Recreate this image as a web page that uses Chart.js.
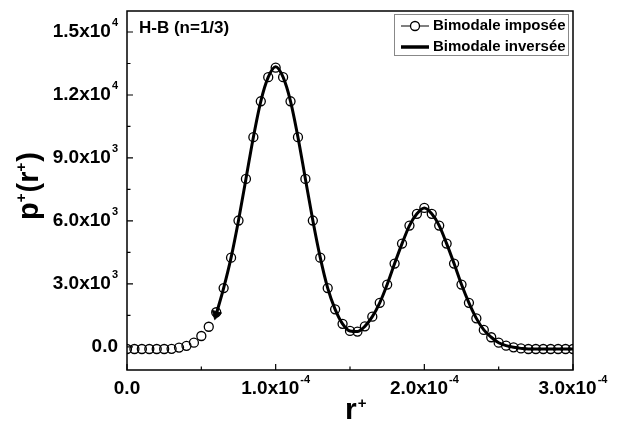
<!DOCTYPE html>
<html>
<head>
<meta charset="utf-8">
<script src="https://cdn.jsdelivr.net/npm/chart.js@4.4.1/dist/chart.umd.min.js"></script>
<style>
  html, body { margin: 0; padding: 0; background: #fff; }
  #wrap { width: 618px; height: 432px; }
</style>
</head>
<body>
<div id="wrap"><canvas id="chart" width="618" height="432"></canvas></div>
<script>
// r+ positions, in units of 1e-6
const rImposee = [0, 5, 10, 15, 20, 25, 30, 35, 40, 45, 50, 55, 60, 65, 70, 75, 80, 85, 90, 95,
  100, 105, 110, 115, 120, 125, 130, 135, 140, 145, 150, 155, 160, 165, 170, 175, 180, 185, 190, 195,
  200, 205, 210, 215, 220, 225, 230, 235, 240, 245, 250, 255, 260, 265, 270, 275, 280, 285, 290, 295, 300];
const pImposee = [-100, -100, -100, -100, -100, -100, -90, -30, 50, 200, 520, 960, 1650, 2800, 4250, 6020,
  8000, 9990, 11700, 12850, 13300, 12850, 11700, 9990, 8000, 6020, 4250, 2800, 1790, 1100, 760, 730,
  980, 1440, 2100, 2970, 3970, 4920, 5780, 6340, 6620, 6340, 5780, 4920, 3970, 2970, 2100, 1360,
  810, 460, 200, 60, -20, -70, -100, -100, -100, -100, -100, -100, -100];

const rInversee = [60, 65, 70, 75, 80, 85, 90, 95, 100, 105, 110, 115, 120, 125, 130, 135, 140, 145,
  150, 155, 160, 165, 170, 175, 180, 185, 190, 195, 200, 205, 210, 215, 220, 225, 230, 235, 240, 245,
  250, 255, 260, 265, 270, 275, 280, 285, 290, 295, 300];
const pInversee = [1550, 2800, 4250, 6020, 8000, 9990, 11700, 12850, 13350, 12850, 11700, 9990, 8000,
  6020, 4250, 2800, 1790, 1100, 760, 730, 980, 1440, 2100, 2970, 3970, 4920, 5780, 6340, 6620, 6340,
  5780, 4920, 3970, 2970, 2100, 1360, 810, 460, 200, 60, -20, -70, -100, -100, -100, -100, -100, -100, -100];

// tick labels
const yTickValues = [0, 3000, 6000, 9000, 12000, 15000];
const yTickBase = ['0.0', '3.0x10', '6.0x10', '9.0x10', '1.2x10', '1.5x10'];
const yTickExp = ['', '3', '3', '3', '4', '4'];
const yMinorValues = [1500, 4500, 7500, 10500, 13500];
const xTickValues = [0, 1e-4, 2e-4, 3e-4];
const xTickBase = ['0.0', '1.0x10', '2.0x10', '3.0x10'];
const xTickExp = ['', '-4', '-4', '-4'];
const xMinorValues = [0.5e-4, 1.5e-4, 2.5e-4];

const legendLabels = ['Bimodale imposée', 'Bimodale inversée'];
const annotation = 'H-B (n=1/3)';

const FONT = '"Liberation Sans", Arial, sans-serif';

// draw "1.5x10" with a raised exponent
function drawSci(ctx, base, exp, x, y, align) {
  ctx.font = 'bold 19px ' + FONT;
  const wb = ctx.measureText(base).width;
  ctx.font = 'bold 11px ' + FONT;
  const we = exp ? ctx.measureText(exp).width + 1 : 0;
  const total = wb + we;
  let start = x;
  if (align === 'center') start = x - total / 2;
  if (align === 'right') start = x - total;
  ctx.textAlign = 'left';
  ctx.textBaseline = 'middle';
  ctx.font = 'bold 19px ' + FONT;
  ctx.fillText(base, start, y);
  if (exp) {
    ctx.font = 'bold 11px ' + FONT;
    ctx.fillText(exp, start + wb + 1, y - 9);
  }
}

const decoPlugin = {
  id: 'deco',
  afterDraw(chart) {
    const ctx = chart.ctx;
    const area = chart.chartArea;
    const xs = chart.scales.x;
    const ys = chart.scales.y;
    ctx.save();
    ctx.fillStyle = '#000';
    ctx.strokeStyle = '#000';

    // frame
    ctx.lineWidth = 1.5;
    ctx.strokeRect(area.left, area.top, area.right - area.left, area.bottom - area.top);

    // inward ticks
    ctx.lineWidth = 1.2;
    ctx.beginPath();
    xTickValues.forEach(v => {
      const px = xs.getPixelForValue(v);
      ctx.moveTo(px, area.bottom); ctx.lineTo(px, area.bottom - 6);
    });
    xMinorValues.forEach(v => {
      const px = xs.getPixelForValue(v);
      ctx.moveTo(px, area.bottom); ctx.lineTo(px, area.bottom - 3.5);
    });
    yTickValues.forEach(v => {
      const py = ys.getPixelForValue(v);
      ctx.moveTo(area.left, py); ctx.lineTo(area.left + 6, py);
    });
    yMinorValues.forEach(v => {
      const py = ys.getPixelForValue(v);
      ctx.moveTo(area.left, py); ctx.lineTo(area.left + 3.5, py);
    });
    ctx.stroke();

    // tick labels
    yTickValues.forEach((v, i) => {
      drawSci(ctx, yTickBase[i], yTickExp[i], area.left - 9, ys.getPixelForValue(v), 'right');
    });
    xTickValues.forEach((v, i) => {
      drawSci(ctx, xTickBase[i], xTickExp[i], xs.getPixelForValue(v), area.bottom + 19, 'center');
    });

    // axis titles
    ctx.textBaseline = 'alphabetic';
    ctx.textAlign = 'left';
    ctx.font = 'bold 30px ' + FONT;
    const wr = ctx.measureText('r').width;
    ctx.fillText('r', 345, 419);
    ctx.font = 'bold 15px ' + FONT;
    ctx.fillText('+', 345 + wr + 1, 408);

    ctx.save();
    ctx.translate(38, 186);
    ctx.rotate(-Math.PI / 2);
    const parts = [['p', false], ['+', true], ['(', false], ['r', false], ['+', true], [')', false]];
    let total = 0;
    parts.forEach(([t, sup]) => {
      ctx.font = (sup ? 'bold 15px ' : 'bold 29px ') + FONT;
      total += ctx.measureText(t).width + (sup ? 1 : 0);
    });
    let cx = -total / 2;
    parts.forEach(([t, sup]) => {
      ctx.font = (sup ? 'bold 15px ' : 'bold 29px ') + FONT;
      ctx.fillText(t, cx, sup ? -12 : 0);
      cx += ctx.measureText(t).width + (sup ? 1 : 0);
    });
    ctx.restore();

    // annotation
    ctx.font = 'bold 17px ' + FONT;
    ctx.textBaseline = 'middle';
    ctx.fillText(annotation, 139, 28);

    // legend
    ctx.lineWidth = 1;
    ctx.strokeStyle = '#888';
    ctx.strokeRect(394.5, 14.5, 174, 41);
    ctx.strokeStyle = '#000';
    ctx.beginPath();
    ctx.moveTo(401, 26); ctx.lineTo(429, 26);
    ctx.stroke();
    ctx.beginPath();
    ctx.arc(415, 26, 4.5, 0, Math.PI * 2);
    ctx.fillStyle = '#fff';
    ctx.fill();
    ctx.lineWidth = 1.3;
    ctx.stroke();
    ctx.lineWidth = 3.5;
    ctx.beginPath();
    ctx.moveTo(401, 47); ctx.lineTo(429, 47);
    ctx.stroke();
    ctx.fillStyle = '#000';
    ctx.font = 'bold 15px ' + FONT;
    ctx.fillText(legendLabels[0], 433, 26);
    ctx.fillText(legendLabels[1], 433, 47);

    ctx.restore();
  }
};

const ctx = document.getElementById('chart').getContext('2d');
new Chart(ctx, {
  type: 'line',
  data: {
    datasets: [
      {
        label: legendLabels[1],
        data: rInversee.map((r, i) => ({ x: r * 1e-6, y: pInversee[i] })),
        borderColor: '#000',
        borderWidth: 3,
        cubicInterpolationMode: 'monotone',
        pointRadius: rInversee.map((r, i) => (i === 0 ? 5.5 : 0)),
        pointStyle: 'triangle',
        pointRotation: 196,
        pointBackgroundColor: '#000',
        pointBorderColor: '#000',
        pointBorderWidth: 1,
        fill: false,
      },
      {
        label: legendLabels[0],
        data: rImposee.map((r, i) => ({ x: r * 1e-6, y: pImposee[i] })),
        showLine: false,
        pointStyle: 'circle',
        pointRadius: 4.5,
        pointBorderWidth: 1.3,
        pointBorderColor: '#000',
        pointBackgroundColor: 'rgba(0,0,0,0)',
      },
    ],
  },
  options: {
    responsive: false,
    animation: false,
    layout: { padding: { left: 119, top: 11, right: 45, bottom: 54 } },
    plugins: { legend: { display: false }, tooltip: { enabled: false } },
    scales: {
      x: {
        type: 'linear',
        min: 0,
        max: 3e-4,
        ticks: { display: false },
        grid: { display: false },
        border: { display: false },
      },
      y: {
        type: 'linear',
        min: -1100,
        max: 16000,
        ticks: { display: false },
        grid: { display: false },
        border: { display: false },
      },
    },
  },
  plugins: [decoPlugin],
});
</script>
</body>
</html>
